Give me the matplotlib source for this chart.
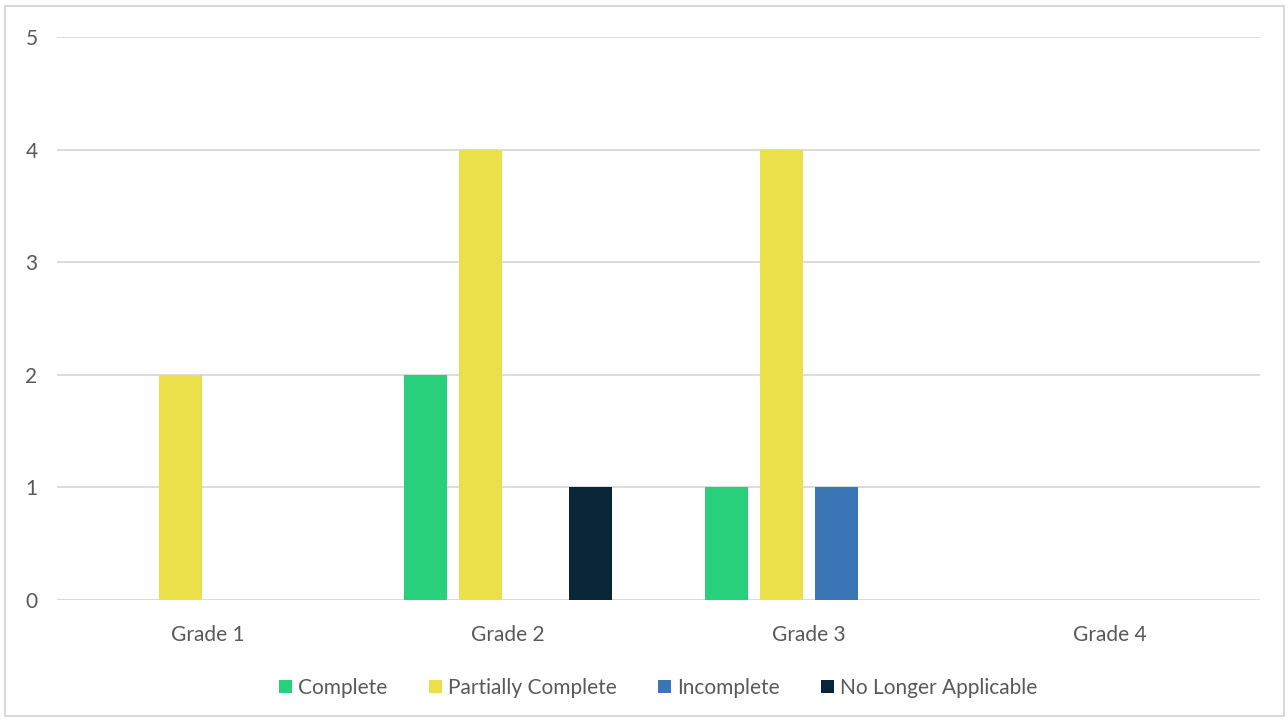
"""Grouped bar chart — status counts per grade."""

import matplotlib
matplotlib.use("Agg")
import matplotlib.pyplot as plt
import matplotlib.patches as mpatches
import numpy as np

grades = ["Grade 1", "Grade 2", "Grade 3", "Grade 4"]
complete = [0, 2, 1, 0]
partially_complete = [2, 4, 4, 0]
incomplete = [0, 0, 1, 0]
no_longer_applicable = [0, 1, 0, 0]

series = [
    ("Complete", complete, "#29D07C"),
    ("Partially Complete", partially_complete, "#EBE049"),
    ("Incomplete", incomplete, "#3A75B5"),
    ("No Longer Applicable", no_longer_applicable, "#0A2538"),
]

plt.rcParams["font.family"] = ["Lato", "DejaVu Sans"]

fig = plt.figure(figsize=(12.88, 7.2), dpi=100)
ax = fig.add_axes([0.0443, 0.1667, 0.9337, 0.7819])

x = np.arange(len(grades))
step = 0.182
width = 0.143
for i, (name, vals, color) in enumerate(series):
    ax.bar(x + (i - 1.5) * step, vals, width, color=color, label=name, zorder=3)

ax.set_xlim(-0.5, 3.5)
ax.set_ylim(0, 5)
ax.set_yticks(range(6))
ax.set_xticks(x)
ax.set_xticklabels(grades)
ax.tick_params(length=0, labelsize=15, colors="#595959", pad=18)
ax.tick_params(axis="y", pad=14)
ax.grid(axis="y", color="#D9D9D9", lw=1.3, zorder=0)
for s in ax.spines.values():
    s.set_visible(False)

ax.legend(loc="upper center", bbox_to_anchor=(0.5, -0.105), ncol=4, frameon=False,
          fontsize=15, labelcolor="#595959", handlelength=0.6, handleheight=0.6,
          handletextpad=0.3, columnspacing=2.0)

# outer chart border
fig.patches.append(mpatches.Rectangle((0.004, 0.006), 0.993, 0.985, transform=fig.transFigure,
                                      fill=False, edgecolor="#D9D9D9", lw=1.5))

fig.savefig("out.png", dpi=100)
